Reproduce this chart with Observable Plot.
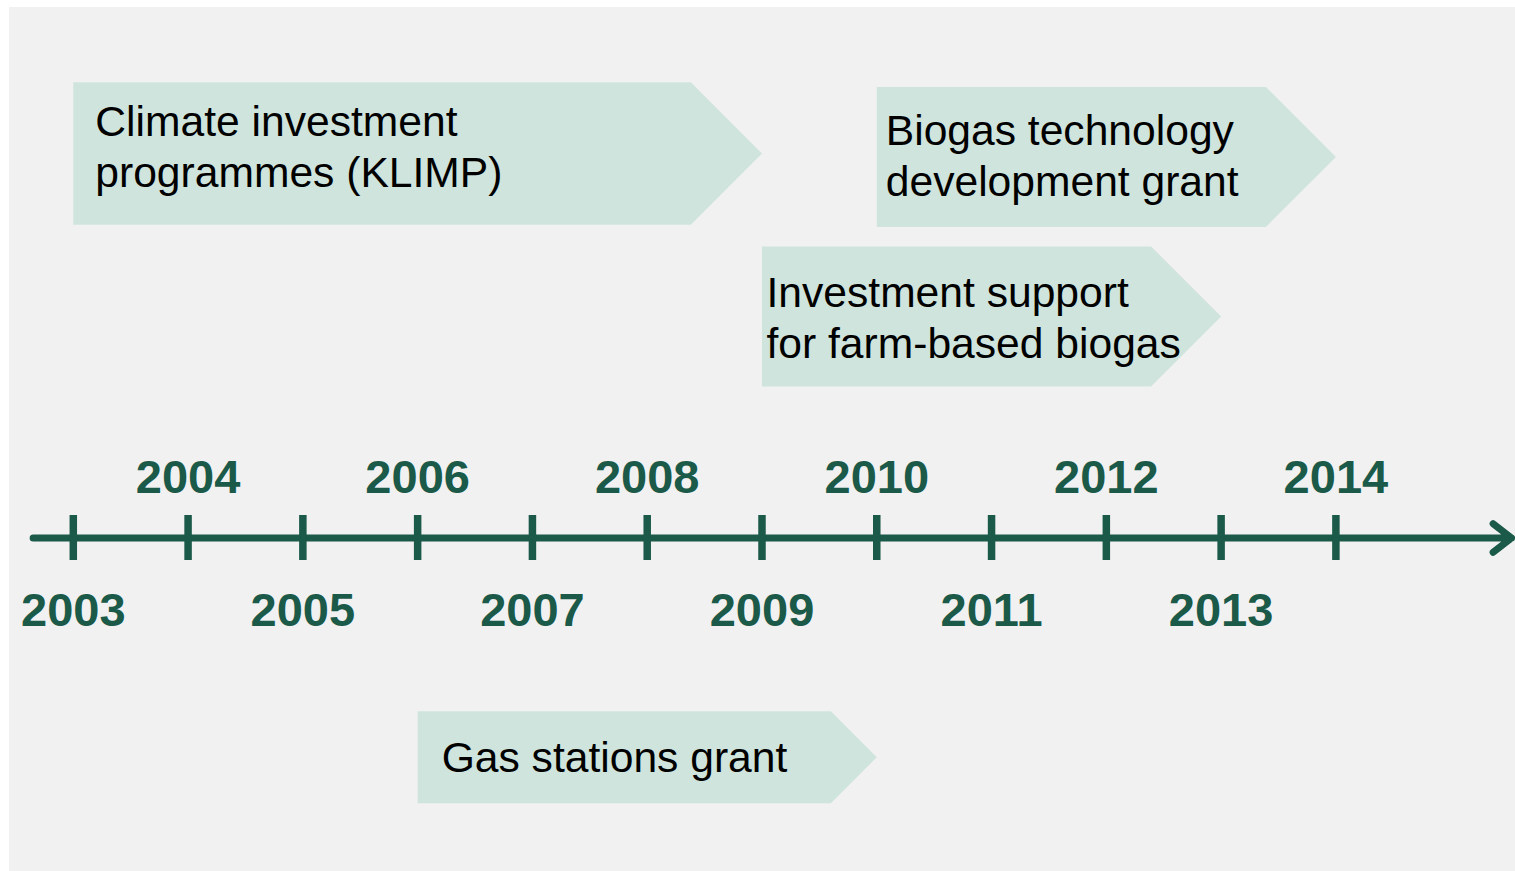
<!DOCTYPE html>
<html>
<head>
<meta charset="utf-8">
<script src="https://cdn.jsdelivr.net/npm/d3@7"></script>
<script src="https://cdn.jsdelivr.net/npm/@observablehq/plot@0.6"></script>
<style>
  html, body { margin: 0; padding: 0; background: #ffffff; }
  #chart { position: absolute; left: 9px; top: 7px; }
  #chart svg { display: block; }
</style>
</head>
<body>
<div id="chart"></div>
<script>
// ---- data ----
const years = [2003, 2004, 2005, 2006, 2007, 2008, 2009, 2010, 2011, 2012, 2013, 2014];
const programmes = [
  "Climate investment\nprogrammes (KLIMP)",
  "Biogas technology\ndevelopment grant",
  "Investment support\nfor farm-based biogas",
  "Gas stations grant"
];
const startYears = [2003, 2010, 2009, 2006];
const endYears = [2009, 2014, 2013, 2010];
// lane centre and half-height, in year-width units above (+) / below (-) the timeline
const laneCentre = [3.35, 3.32, 1.93, -1.91];
const laneHalf = [0.62, 0.61, 0.61, 0.40];
const axisExtent = [2002.65, 2015.53];

// ---- styles ----
const W = 1506, H = 864;
const X_RANGE = [63.8, 1326.4];
const PX_PER_YEAR = (X_RANGE[1] - X_RANGE[0]) / (years[years.length - 1] - years[0]);
const AXIS_PX = 530.5;
const Y_DOMAIN = [-(H - AXIS_PX) / PX_PER_YEAR, AXIS_PX / PX_PER_YEAR];
const TICK_HALF = 22.5 / PX_PER_YEAR;
const labelDx = [22, 9, 4.5, 24];
const labelDy = [-8, -2.5, -0.5, -2];
const GREEN = "#1b5949";
const BOX = "#cfe4dd";
const FONT = "'Liberation Sans', Arial, sans-serif";

// ---- derived tables ----
const boxes = programmes.map((name, i) => ({
  name, start: startYears[i], end: endYears[i], c: laneCentre[i], h: laneHalf[i], i
}));
const outline = boxes.flatMap(b => [
  {name: b.name, x: b.start, y: b.c + b.h},
  {name: b.name, x: b.end - b.h, y: b.c + b.h},
  {name: b.name, x: b.end, y: b.c},
  {name: b.name, x: b.end - b.h, y: b.c - b.h},
  {name: b.name, x: b.start, y: b.c - b.h}
]);

const plot = Plot.plot({
  width: W,
  height: H,
  margin: 0,
  style: {background: "#f1f1f1", fontFamily: FONT, overflow: "visible"},
  x: {domain: [years[0], years[years.length - 1]], range: X_RANGE, axis: null},
  y: {domain: Y_DOMAIN, range: [H, 0], axis: null},
  marks: [
    Plot.line(outline, {x: "x", y: "y", z: "name", curve: "linear-closed", fill: BOX, stroke: "none"}),
    ...boxes.map(b => Plot.text([b], {
      x: "start", y: "c", text: "name", textAnchor: "start", lineAnchor: "middle",
      lineHeight: 1.2, dx: labelDx[b.i], dy: labelDy[b.i],
      fontSize: 42.6, fill: "#000000", fontFamily: FONT
    })),
    Plot.arrow([axisExtent], {
      x1: d => d[0], x2: d => d[1], y1: 0, y2: 0,
      stroke: GREEN, strokeWidth: 7, headAngle: 76, headLength: 5,
      strokeLinecap: "round", strokeLinejoin: "round"
    }),
    Plot.ruleX(years, {x: d => d, y1: -TICK_HALF, y2: TICK_HALF, stroke: GREEN, strokeWidth: 7.5}),
    Plot.text(years.filter(d => d % 2 === 0), {
      x: d => d, y: 0, text: d => String(d), dy: -60,
      fontSize: 47, fontWeight: "bold", fill: GREEN, fontFamily: FONT
    }),
    Plot.text(years.filter(d => d % 2 === 1), {
      x: d => d, y: 0, text: d => String(d), dy: 73,
      fontSize: 47, fontWeight: "bold", fill: GREEN, fontFamily: FONT
    })
  ]
});
document.getElementById("chart").appendChild(plot);
</script>
</body>
</html>
